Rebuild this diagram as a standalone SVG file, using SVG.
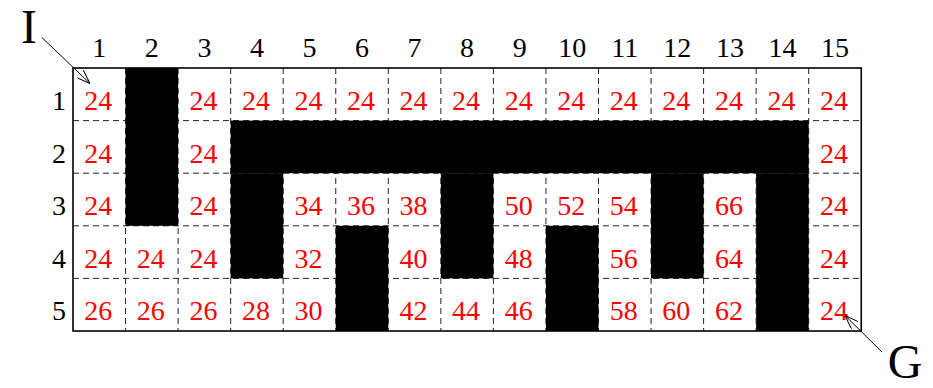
<svg xmlns="http://www.w3.org/2000/svg" width="933" height="388" viewBox="0 0 933 388">
<style>
.num{font-family:"Liberation Serif","Times New Roman",serif;font-size:28px;fill:#ff0000;text-anchor:middle}
.lab{font-family:"Liberation Serif","Times New Roman",serif;font-size:28px;fill:#000;text-anchor:middle}
.big{font-family:"Liberation Serif","Times New Roman",serif;font-size:48px;fill:#000;text-anchor:middle}
.grid line{stroke:#222;stroke-width:1;stroke-dasharray:6,4}
.wall{fill:#000}
.conn line{stroke:#000;stroke-width:1;fill:none}
</style>
<defs>
<marker id="ah" viewBox="0 0 14 10" refX="14" refY="5" markerWidth="14" markerHeight="10" markerUnits="userSpaceOnUse" orient="auto">
<path d="M0,0 L14,5 L0,10" fill="none" stroke="#000" stroke-width="1"/>
</marker>
</defs>
<rect x="0" y="0" width="933" height="388" fill="#fff"/>
<g id="grid" class="grid">
<line x1="125.55" y1="68" x2="125.55" y2="331"/>
<line x1="178.1" y1="68" x2="178.1" y2="331"/>
<line x1="230.65" y1="68" x2="230.65" y2="331"/>
<line x1="283.2" y1="68" x2="283.2" y2="331"/>
<line x1="335.75" y1="68" x2="335.75" y2="331"/>
<line x1="388.3" y1="68" x2="388.3" y2="331"/>
<line x1="440.85" y1="68" x2="440.85" y2="331"/>
<line x1="493.4" y1="68" x2="493.4" y2="331"/>
<line x1="545.95" y1="68" x2="545.95" y2="331"/>
<line x1="598.5" y1="68" x2="598.5" y2="331"/>
<line x1="651.05" y1="68" x2="651.05" y2="331"/>
<line x1="703.6" y1="68" x2="703.6" y2="331"/>
<line x1="756.15" y1="68" x2="756.15" y2="331"/>
<line x1="808.7" y1="68" x2="808.7" y2="331"/>
<line x1="73" y1="120.6" x2="861.25" y2="120.6"/>
<line x1="73" y1="173.2" x2="861.25" y2="173.2"/>
<line x1="73" y1="225.8" x2="861.25" y2="225.8"/>
<line x1="73" y1="278.4" x2="861.25" y2="278.4"/>
</g>
<g id="walls">
<rect class="wall" x="125.55" y="68" width="52.55" height="157.8"/>
<rect class="wall" x="230.65" y="120.6" width="578.05" height="52.6"/>
<rect class="wall" x="230.65" y="173.2" width="52.55" height="105.2"/>
<rect class="wall" x="440.85" y="173.2" width="52.55" height="105.2"/>
<rect class="wall" x="651.05" y="173.2" width="52.55" height="105.2"/>
<rect class="wall" x="756.15" y="173.2" width="52.55" height="157.8"/>
<rect class="wall" x="335.75" y="225.8" width="52.55" height="105.2"/>
<rect class="wall" x="545.95" y="225.8" width="52.55" height="105.2"/>
</g>
<rect id="border" x="73" y="68" width="788.25" height="263" fill="none" stroke="#000" stroke-width="1.6"/>
<g id="colLabels" class="lab">
<text x="99.3" y="57">1</text><text x="151.8" y="57">2</text><text x="204.4" y="57">3</text><text x="256.9" y="57">4</text><text x="309.5" y="57">5</text><text x="362" y="57">6</text><text x="414.6" y="57">7</text><text x="467.1" y="57">8</text><text x="519.7" y="57">9</text><text x="572.2" y="57">10</text><text x="624.8" y="57">11</text><text x="677.3" y="57">12</text><text x="729.9" y="57">13</text><text x="782.4" y="57">14</text><text x="835" y="57">15</text>
</g>
<g id="rowLabels" class="lab">
<text x="59" y="110">1</text><text x="59" y="162.6">2</text><text x="59" y="215.2">3</text><text x="59" y="267.8">4</text><text x="59" y="320.4">5</text>
</g>
<g id="values" class="num">
<text x="98.3" y="110">24</text><text x="203.4" y="110">24</text><text x="255.9" y="110">24</text><text x="308.5" y="110">24</text><text x="361" y="110">24</text><text x="413.6" y="110">24</text><text x="466.1" y="110">24</text><text x="518.7" y="110">24</text><text x="571.2" y="110">24</text><text x="623.8" y="110">24</text><text x="676.3" y="110">24</text><text x="728.9" y="110">24</text><text x="781.4" y="110">24</text><text x="834" y="110">24</text>
<text x="98.3" y="162.6">24</text><text x="203.4" y="162.6">24</text><text x="834" y="162.6">24</text>
<text x="98.3" y="215.2">24</text><text x="203.4" y="215.2">24</text><text x="308.5" y="215.2">34</text><text x="361" y="215.2">36</text><text x="413.6" y="215.2">38</text><text x="518.7" y="215.2">50</text><text x="571.2" y="215.2">52</text><text x="623.8" y="215.2">54</text><text x="728.9" y="215.2">66</text><text x="834" y="215.2">24</text>
<text x="98.3" y="267.8">24</text><text x="150.8" y="267.8">24</text><text x="203.4" y="267.8">24</text><text x="308.5" y="267.8">32</text><text x="413.6" y="267.8">40</text><text x="518.7" y="267.8">48</text><text x="623.8" y="267.8">56</text><text x="728.9" y="267.8">64</text><text x="834" y="267.8">24</text>
<text x="98.3" y="320.4">26</text><text x="150.8" y="320.4">26</text><text x="203.4" y="320.4">26</text><text x="255.9" y="320.4">28</text><text x="308.5" y="320.4">30</text><text x="413.6" y="320.4">42</text><text x="466.1" y="320.4">44</text><text x="518.7" y="320.4">46</text><text x="623.8" y="320.4">58</text><text x="676.3" y="320.4">60</text><text x="728.9" y="320.4">62</text><text x="834" y="320.4">24</text>
</g>
<g id="labelI"><text class="big" x="29" y="43">I</text></g>
<g id="labelG"><text class="big" x="905" y="377.5">G</text></g>
<g id="connectors" class="conn">
<line x1="41.7" y1="37.3" x2="90" y2="83.5" marker-end="url(#ah)"/>
<line x1="882" y1="352" x2="845" y2="315.5" marker-end="url(#ah)"/>
</g>
</svg>
